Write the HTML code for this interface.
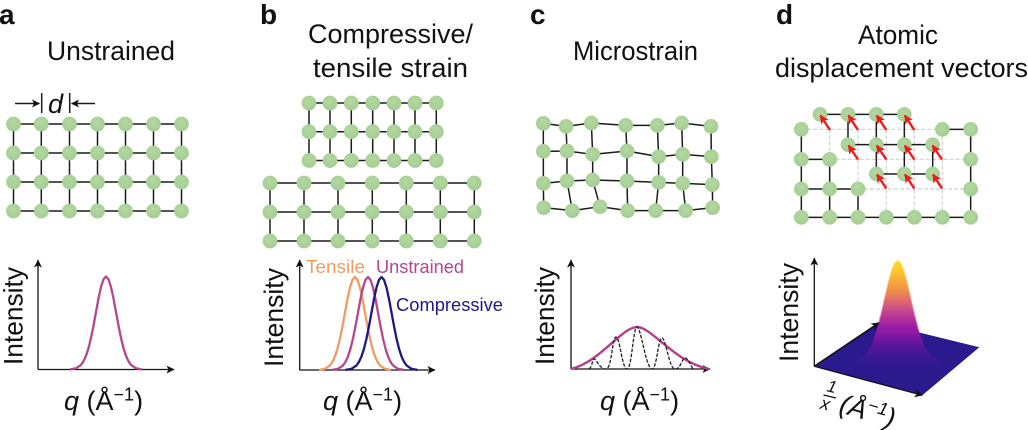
<!DOCTYPE html>
<html><head><meta charset="utf-8">
<style>html,body{margin:0;padding:0;background:#fff}svg{display:block}text{font-family:"Liberation Sans",sans-serif;fill:#111}</style>
</head><body>
<svg width="1028" height="430" viewBox="0 0 1028 430" xmlns="http://www.w3.org/2000/svg">
<defs>
<radialGradient id="g" cx="45%" cy="40%" r="65%"><stop offset="0" stop-color="#b2d8a0"/><stop offset="1" stop-color="#a4cd92"/></radialGradient>
<circle id="n" r="7.4" fill="url(#g)"/>
<circle id="N" r="22" fill="url(#g)"/>
<path id="bell" fill="none" stroke-linejoin="round" d="M-36 0L-35 -.3L-30 -1.2L-25 -4.6L-22.5 -8.2L-20 -13.6L-17.5 -21.4L-15 -31.5L-12.5 -43.9L-10 -57.5L-7.5 -71L-5 -82.5L-2.5 -90.2L0 -93L2.5 -90.2L5 -82.5L7.5 -71L10 -57.5L12.5 -43.9L15 -31.5L17.5 -21.4L20 -13.6L22.5 -8.2L25 -4.6L30 -1.2L35 -.3L36 0"/>
<linearGradient id="pk" x1="0" y1="260" x2="0" y2="372" gradientUnits="userSpaceOnUse">
<stop offset="0" stop-color="#f8e020"/><stop offset=".1" stop-color="#fcc52c"/><stop offset=".27" stop-color="#f19048"/><stop offset=".43" stop-color="#cf5088"/><stop offset=".58" stop-color="#a020a5"/><stop offset=".75" stop-color="#6f12a2"/><stop offset="1" stop-color="#3a1596"/>
</linearGradient>
<linearGradient id="mg" x1="0" y1="335" x2="0" y2="374" gradientUnits="userSpaceOnUse"><stop offset="0" stop-color="#fff"/><stop offset="1" stop-color="#000"/></linearGradient>
<mask id="fade" maskUnits="userSpaceOnUse" x="840" y="250" width="120" height="130"><rect x="840" y="250" width="120" height="130" fill="url(#mg)"/></mask>
<filter id="bl" x="-10%" y="-10%" width="120%" height="120%"><feGaussianBlur stdDeviation="0.6"/></filter>
<marker id="ah" markerWidth="9" markerHeight="8" refX="7.500" refY="4" orient="auto" markerUnits="userSpaceOnUse"><path d="M0 0L8 4L0 8L2 4z" fill="#111"/></marker>
<marker id="ahr" markerWidth="10" markerHeight="10" refX="8" refY="5" orient="auto" markerUnits="userSpaceOnUse"><path d="M0 0.500L9 5L0 9.500L2 5z" fill="#f01a1a"/></marker>
</defs>

<!-- Labels -->
<g font-size="28"><text x="-1" y="24" style="font-weight:700">a</text><text x="260" y="24" style="font-weight:700">b</text><text x="530" y="24" style="font-weight:700">c</text><text x="776" y="24" style="font-weight:700">d</text></g>
<g font-size="26.500">
<text x="47" y="60" textLength="128" lengthAdjust="spacingAndGlyphs">Unstrained</text>
<text x="308" y="43" textLength="165" lengthAdjust="spacingAndGlyphs">Compressive/</text>
<text x="313" y="77" textLength="155" lengthAdjust="spacingAndGlyphs">tensile strain</text>
<text x="573" y="60" textLength="125" lengthAdjust="spacingAndGlyphs">Microstrain</text>
<text x="858" y="44" textLength="80" lengthAdjust="spacingAndGlyphs">Atomic</text>
<text x="775" y="77" textLength="253" lengthAdjust="spacingAndGlyphs">displacement vectors</text>
</g>

<!-- Panel a -->
<g stroke="#1c1c1c" stroke-width="1.500" fill="none">
<path d="M13.500 124H181.500M13.500 153H181.500M13.500 182H181.500M13.500 211H181.500M13.500 124V211M41.300 124V211M69.500 124V211M97.500 124V211M125.500 124V211M153.500 124V211M181.500 124V211"/>
<line x1="15" y1="103.500" x2="39.500" y2="103.500" marker-end="url(#ah)"/>
<line x1="95" y1="103.500" x2="71.500" y2="103.500" marker-end="url(#ah)"/>
<path d="M41.700 93V113M69.700 93V113"/>
</g>
<text x="48" y="113" font-size="27" font-style="italic">d</text>
<g>
<use href="#n" x="13.500" y="124"/><use href="#n" x="41.300" y="124"/><use href="#n" x="69.500" y="124"/><use href="#n" x="97.500" y="124"/><use href="#n" x="125.500" y="124"/><use href="#n" x="153.500" y="124"/><use href="#n" x="181.500" y="124"/>
<use href="#n" x="13.500" y="153"/><use href="#n" x="41.300" y="153"/><use href="#n" x="69.500" y="153"/><use href="#n" x="97.500" y="153"/><use href="#n" x="125.500" y="153"/><use href="#n" x="153.500" y="153"/><use href="#n" x="181.500" y="153"/>
<use href="#n" x="13.500" y="182"/><use href="#n" x="41.300" y="182"/><use href="#n" x="69.500" y="182"/><use href="#n" x="97.500" y="182"/><use href="#n" x="125.500" y="182"/><use href="#n" x="153.500" y="182"/><use href="#n" x="181.500" y="182"/>
<use href="#n" x="13.500" y="211"/><use href="#n" x="41.300" y="211"/><use href="#n" x="69.500" y="211"/><use href="#n" x="97.500" y="211"/><use href="#n" x="125.500" y="211"/><use href="#n" x="153.500" y="211"/><use href="#n" x="181.500" y="211"/>
</g>

<!-- Panel b lattices -->
<g stroke="#1c1c1c" stroke-width="1.500" fill="none">
<path d="M309 103H436M309 131.700H436M309 160.500H436M309 103V160.500M330 103V160.500M351.300 103V160.500M372.700 103V160.500M394 103V160.500M415 103V160.500M436.300 103V160.500"/>
<path d="M270 183H474M270 212H474M270 241H474M270 183V241M304 183V241M338 183V241M372.300 183V241M406.300 183V241M440.300 183V241M474.300 183V241"/>
</g>
<g>
<use href="#n" x="309" y="103"/><use href="#n" x="330" y="103"/><use href="#n" x="351.300" y="103"/><use href="#n" x="372.700" y="103"/><use href="#n" x="394" y="103"/><use href="#n" x="415" y="103"/><use href="#n" x="436.300" y="103"/>
<use href="#n" x="309" y="131.700"/><use href="#n" x="330" y="131.700"/><use href="#n" x="351.300" y="131.700"/><use href="#n" x="372.700" y="131.700"/><use href="#n" x="394" y="131.700"/><use href="#n" x="415" y="131.700"/><use href="#n" x="436.300" y="131.700"/>
<use href="#n" x="309" y="160.500"/><use href="#n" x="330" y="160.500"/><use href="#n" x="351.300" y="160.500"/><use href="#n" x="372.700" y="160.500"/><use href="#n" x="394" y="160.500"/><use href="#n" x="415" y="160.500"/><use href="#n" x="436.300" y="160.500"/>
<use href="#n" x="270" y="183"/><use href="#n" x="304" y="183"/><use href="#n" x="338" y="183"/><use href="#n" x="372.300" y="183"/><use href="#n" x="406.300" y="183"/><use href="#n" x="440.300" y="183"/><use href="#n" x="474.300" y="183"/>
<use href="#n" x="270" y="212"/><use href="#n" x="304" y="212"/><use href="#n" x="338" y="212"/><use href="#n" x="372.300" y="212"/><use href="#n" x="406.300" y="212"/><use href="#n" x="440.300" y="212"/><use href="#n" x="474.300" y="212"/>
<use href="#n" x="270" y="241"/><use href="#n" x="304" y="241"/><use href="#n" x="338" y="241"/><use href="#n" x="372.300" y="241"/><use href="#n" x="406.300" y="241"/><use href="#n" x="440.300" y="241"/><use href="#n" x="474.300" y="241"/>
</g>

<!-- Panel c lattice -->
<g transform="translate(520 100) scale(.33333)">
<g stroke="#1c1c1c" stroke-width="4.500" fill="none">
<polyline points="70,70 138,79 214,69 317,76 412,76 485,69 573,79"/>
<polyline points="70,154 141,153 218,163 321,153 416,170 488,163 574,170"/>
<polyline points="70,250 141,243 218,240 321,243 416,247 488,250 577,254"/>
<polyline points="71,323 157,332 240,320 323,332 407,332 497,332 578,323"/>
<polyline points="70,70 70,154 70,250 71,323"/>
<polyline points="138,79 141,153 141,243 157,332"/>
<polyline points="214,69 218,163 218,240 240,320"/>
<polyline points="317,76 321,153 321,243 323,332"/>
<polyline points="412,76 416,170 416,247 407,332"/>
<polyline points="485,69 488,163 488,250 497,332"/>
<polyline points="573,79 574,170 577,254 578,323"/>
</g>
<use href="#N" x="70" y="70"/><use href="#N" x="138" y="79"/><use href="#N" x="214" y="69"/><use href="#N" x="317" y="76"/><use href="#N" x="412" y="76"/><use href="#N" x="485" y="69"/><use href="#N" x="573" y="79"/>
<use href="#N" x="70" y="154"/><use href="#N" x="141" y="153"/><use href="#N" x="218" y="163"/><use href="#N" x="321" y="153"/><use href="#N" x="416" y="170"/><use href="#N" x="488" y="163"/><use href="#N" x="574" y="170"/>
<use href="#N" x="70" y="250"/><use href="#N" x="141" y="243"/><use href="#N" x="218" y="240"/><use href="#N" x="321" y="243"/><use href="#N" x="416" y="247"/><use href="#N" x="488" y="250"/><use href="#N" x="577" y="254"/>
<use href="#N" x="71" y="323"/><use href="#N" x="157" y="332"/><use href="#N" x="240" y="320"/><use href="#N" x="323" y="332"/><use href="#N" x="407" y="332"/><use href="#N" x="497" y="332"/><use href="#N" x="578" y="323"/>
</g>

<!-- Panel d lattice -->
<g transform="translate(780 100) scale(.33333)">
<path d="M64 88H487M149 178H572M234 267H572M149 88V178M234 88V267M319 88V352M403 88V352M487 88V352" stroke="#cfcfcf" stroke-width="3.500" stroke-dasharray="12 6" fill="none"/>
<path d="M120 43H373M204 43V134M289 43V222M373 43V222M204 134H458M458 134V222M289 222H458M64 88V352M64 178H149M64 267H234M149 178V352M234 267V352M64 352H572M487 88H572M572 88V352" stroke="#1c1c1c" stroke-width="4.500" fill="none"/>
<use href="#N" x="120" y="43"/><use href="#N" x="204" y="43"/><use href="#N" x="289" y="43"/><use href="#N" x="373" y="43"/>
<use href="#N" x="204" y="134"/><use href="#N" x="289" y="134"/><use href="#N" x="373" y="134"/><use href="#N" x="458" y="134"/>
<use href="#N" x="289" y="222"/><use href="#N" x="373" y="222"/><use href="#N" x="458" y="222"/>
<use href="#N" x="64" y="88"/><use href="#N" x="487" y="88"/><use href="#N" x="572" y="88"/>
<use href="#N" x="64" y="178"/><use href="#N" x="149" y="178"/><use href="#N" x="572" y="178"/>
<use href="#N" x="64" y="267"/><use href="#N" x="149" y="267"/><use href="#N" x="234" y="267"/><use href="#N" x="572" y="267"/>
<use href="#N" x="64" y="352"/><use href="#N" x="149" y="352"/><use href="#N" x="234" y="352"/><use href="#N" x="319" y="352"/><use href="#N" x="403" y="352"/><use href="#N" x="487" y="352"/><use href="#N" x="572" y="352"/>
</g>
<g stroke="#f01a1a" stroke-width="2.400" fill="none">
<line x1="830" y1="130" x2="820.500" y2="115.500" marker-end="url(#ahr)"/><line x1="858" y1="130" x2="848.500" y2="115.500" marker-end="url(#ahr)"/><line x1="886.300" y1="130" x2="876.800" y2="115.500" marker-end="url(#ahr)"/><line x1="914.300" y1="130" x2="904.800" y2="115.500" marker-end="url(#ahr)"/>
<line x1="858" y1="159.500" x2="848.500" y2="145.500" marker-end="url(#ahr)"/><line x1="886.300" y1="159.500" x2="876.800" y2="145.500" marker-end="url(#ahr)"/><line x1="914.300" y1="159.500" x2="904.800" y2="145.500" marker-end="url(#ahr)"/><line x1="942" y1="159.500" x2="932.500" y2="145.500" marker-end="url(#ahr)"/>
<line x1="886.300" y1="188.500" x2="877" y2="174.500" marker-end="url(#ahr)"/><line x1="914.300" y1="188.500" x2="905" y2="174.500" marker-end="url(#ahr)"/><line x1="942" y1="188.500" x2="933" y2="174.500" marker-end="url(#ahr)"/>
</g>

<!-- Charts -->
<g stroke="#111" stroke-width="1.300" fill="none">
<line x1="38" y1="369.500" x2="38" y2="260" marker-end="url(#ah)"/><line x1="38" y1="369.500" x2="174" y2="369.500" marker-end="url(#ah)"/>
<line x1="299.700" y1="370" x2="299.700" y2="260" marker-end="url(#ah)"/><line x1="299.700" y1="370" x2="435" y2="370" marker-end="url(#ah)"/>
<line x1="571" y1="369" x2="571" y2="260" marker-end="url(#ah)"/><line x1="571" y1="369" x2="710" y2="369" marker-end="url(#ah)"/>
</g>
<g fill="none" stroke-width="2.300">
<use href="#bell" x="106" y="369.500" stroke="#b5478e"/>
<use href="#bell" x="355" y="370" stroke="#ef9c62"/>
<use href="#bell" x="368" y="370" stroke="#b5478e"/>
<use href="#bell" x="381.500" y="370" stroke="#1f1786"/>
<path d="M571 369C600 362 622 327 637 327C652 327 674 362 709 369" stroke="#b53f8c" stroke-width="2.400"/>
<path d="M589 369C593 366 592 359 594 359C597 359 599 369 606 369C612 369 612 337 616 337C620 337 622 369 627 369C632 369 633 327 637 327C641 327 646 369 652 369C657 369 658 338 662 338C666 338 669 369 675 369C681 369 682 358 685 358C688 358 691 366 693 369" stroke="#222" stroke-width="1.300" stroke-dasharray="3.500 1.500"/>
</g>
<g font-size="18.500">
<text x="306" y="273" textLength="59" lengthAdjust="spacingAndGlyphs" style="fill:#ef9c62">Tensile</text>
<text x="376" y="273" textLength="88" lengthAdjust="spacingAndGlyphs" style="fill:#b8458f">Unstrained</text>
<text x="396" y="311" textLength="107" lengthAdjust="spacingAndGlyphs" style="fill:#1f1786">Compressive</text>
</g>
<g font-size="26.500">
<text transform="translate(22.500 365) rotate(-90)" textLength="98" lengthAdjust="spacingAndGlyphs">Intensity</text>
<text transform="translate(283 367) rotate(-90)" textLength="99" lengthAdjust="spacingAndGlyphs">Intensity</text>
<text transform="translate(554 365) rotate(-90)" textLength="98" lengthAdjust="spacingAndGlyphs">Intensity</text>
<text transform="translate(798 362) rotate(-90)" textLength="99" lengthAdjust="spacingAndGlyphs">Intensity</text>
</g>
<g font-size="27">
<text x="64" y="410"><tspan font-style="italic">q</tspan> (Å<tspan font-size="18" dy="-9.500">−1</tspan><tspan dy="9.500">)</tspan></text>
<text x="323" y="410"><tspan font-style="italic">q</tspan> (Å<tspan font-size="18" dy="-9.500">−1</tspan><tspan dy="9.500">)</tspan></text>
<text x="600" y="410"><tspan font-style="italic">q</tspan> (Å<tspan font-size="18" dy="-9.500">−1</tspan><tspan dy="9.500">)</tspan></text>
</g>

<!-- Panel d 3D -->
<polygon points="814.300,366.300 879,322.700 979.300,347.300 922.300,395.300" fill="#2a1a8e"/>
<path d="M852.700 372L857.700 359L864 355.600L870.700 346.500L874.100 338L877.450 327.500L880.700 314.700L884.200 299.300L887.700 284L891 271.800L894.300 263L897.700 260L901.100 263L904.400 271.800L907.700 284L911.200 299.300L914.700 314.700L917.950 327.500L921.300 338L924.700 346.500L931.400 355.600L937.700 359L942.700 372Z" fill="url(#pk)" mask="url(#fade)" filter="url(#bl)"/>
<g stroke="#111" stroke-width="1.300" fill="none">
<line x1="814.300" y1="366.300" x2="814.300" y2="258" marker-end="url(#ah)"/>
<line x1="814.300" y1="366.300" x2="879" y2="322.700" stroke-width="1.500" marker-end="url(#ah)"/>
<line x1="814.300" y1="366.300" x2="922.300" y2="395.300" marker-end="url(#ah)"/>
</g>
<text transform="translate(826 391) rotate(14)" font-size="17" style="font-style:italic">1</text>
<line x1="823.500" y1="395" x2="836" y2="398" stroke="#111" stroke-width="1.400"/>
<text transform="translate(819.500 408.500) rotate(14)" font-size="18" style="font-style:italic">x</text>
<text transform="translate(838 412) rotate(16)" font-size="27" style="font-style:italic">(Å<tspan font-size="18" dy="-9.500">−1</tspan><tspan dy="9.500">)</tspan></text>
</svg>
</body></html>
